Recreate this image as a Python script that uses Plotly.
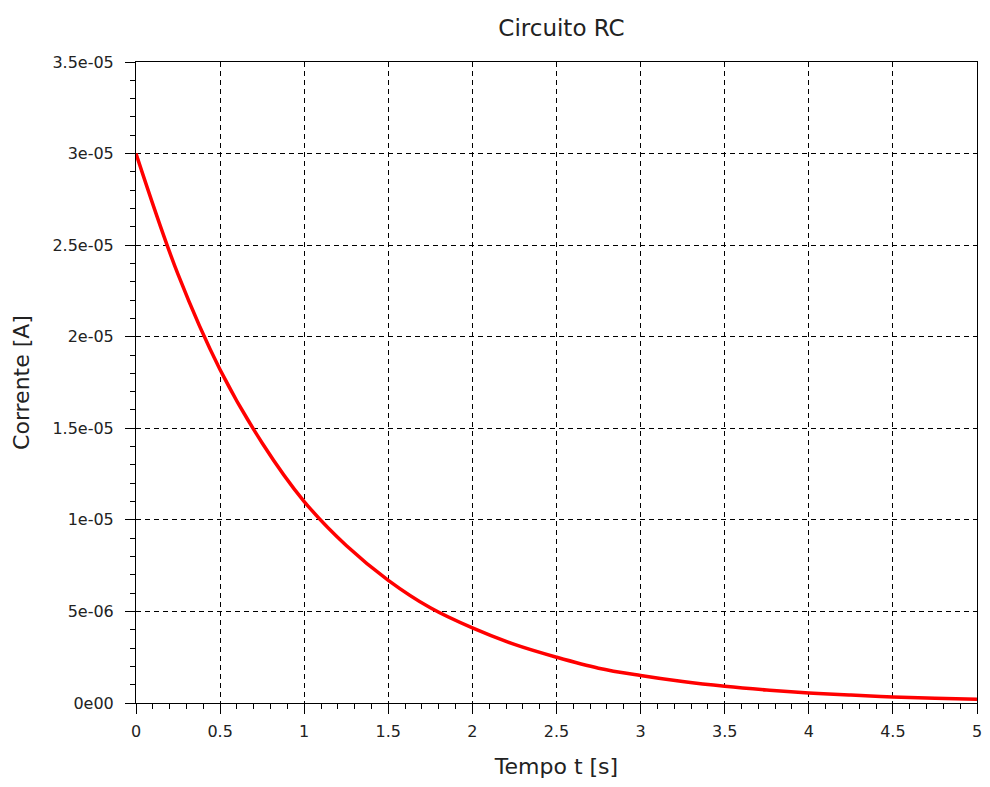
import plotly.graph_objects as go

# Time samples [s]
t_values = [0.0, 0.25, 0.5, 0.75, 1.0, 1.25, 1.5, 1.75, 2.0, 2.25, 2.5,
            2.75, 3.0, 3.25, 3.5, 3.75, 4.0, 4.25, 4.5, 4.75, 5.0]
# Current [A]
i_values = [3.0e-05, 2.34e-05, 1.82e-05, 1.42e-05, 1.10e-05, 0.86e-05, 0.67e-05,
            0.52e-05, 0.41e-05, 0.32e-05, 0.25e-05, 0.19e-05, 0.15e-05, 0.117e-05,
            0.091e-05, 0.071e-05, 0.055e-05, 0.043e-05, 0.033e-05, 0.026e-05, 0.020e-05]

x_tickvals = [0, 0.5, 1, 1.5, 2, 2.5, 3, 3.5, 4, 4.5, 5]
x_ticktext = ["0", "0.5", "1", "1.5", "2", "2.5", "3", "3.5", "4", "4.5", "5"]
y_tickvals = [0, 5e-06, 1e-05, 1.5e-05, 2e-05, 2.5e-05, 3e-05, 3.5e-05]
y_ticktext = ["0e00", "5e-06", "1e-05", "1.5e-05", "2e-05", "2.5e-05", "3e-05", "3.5e-05"]

fig = go.Figure()
fig.add_trace(go.Scatter(x=t_values, y=i_values, mode="lines",
                         line=dict(color="#ff0000", width=3.5, shape="spline"),
                         showlegend=False, cliponaxis=True))

font_family = "DejaVu Sans, Verdana, sans-serif"
text_color = "#222222"

def axis_style(minor_dtick, label_standoff):
    return dict(
        showline=True, linecolor="black", linewidth=1, mirror=True,
        showgrid=True, gridcolor="black", gridwidth=1, griddash="5px,4px",
        ticks="outside", ticklen=10, tickwidth=1, tickcolor="black",
        zeroline=False, automargin=False, ticklabeloverflow="allow",
        ticklabelstandoff=label_standoff,
        tickfont=dict(family=font_family, size=16, color=text_color),
        minor=dict(ticks="outside", ticklen=5, tickwidth=1, tickcolor="black",
                   showgrid=False, dtick=minor_dtick),
    )

W, H = 974, 771
fig.update_layout(
    width=W, height=H,
    margin=dict(l=128, r=5, t=54, b=76),
    paper_bgcolor="white", plot_bgcolor="white",
    title=dict(text="Circuito RC", x=553.5 / W, xanchor="center", y=1 - 20 / H, yanchor="middle",
               font=dict(family=font_family, size=23, color=text_color)),
    xaxis=dict(range=[0, 5], tickmode="array", tickvals=x_tickvals, ticktext=x_ticktext,
               title=dict(text="Tempo t [s]", font=dict(family=font_family, size=22, color=text_color),
                          standoff=24),
               **axis_style(0.1, 4)),
    yaxis=dict(range=[0, 3.5e-05], tickmode="array", tickvals=y_tickvals, ticktext=y_ticktext,
               title=dict(text="Corrente [A]", font=dict(family=font_family, size=22, color=text_color),
                          standoff=16),
               **axis_style(1e-06, 8)),
)

fig.write_html("out.html")
